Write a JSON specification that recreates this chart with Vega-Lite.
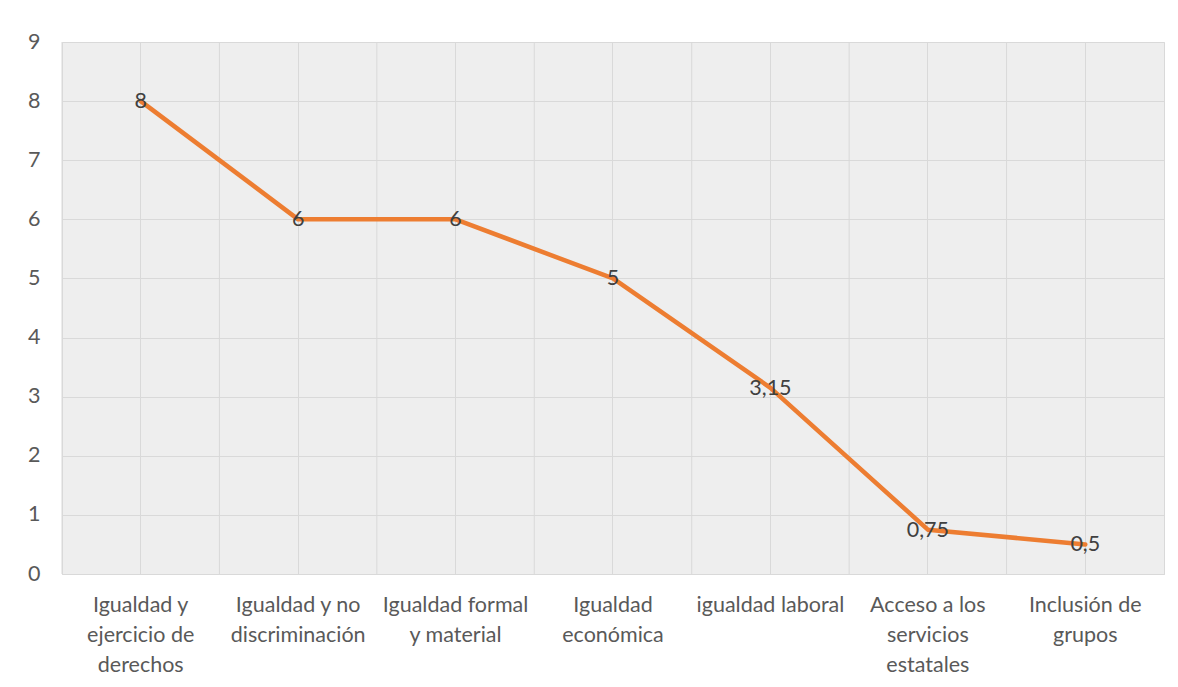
{
  "$schema": "https://vega.github.io/schema/vega-lite/v6.json",
  "width": 1102,
  "height": 532,
  "autosize": {"type": "none"},
  "padding": {"left": 62, "top": 42, "right": 14, "bottom": 113},
  "background": "white",
  "config": {
    "view": {"stroke": "#d9d9d9", "strokeWidth": 1, "fill": "#eeeeee"},
    "font": "Lato"
  },
  "data": {
    "values": [
      {"categoria": "Igualdad y ejercicio de derechos", "valor": 8, "etiqueta": "8"},
      {"categoria": "Igualdad y no discriminación", "valor": 6, "etiqueta": "6"},
      {"categoria": "Igualdad formal y material", "valor": 6, "etiqueta": "6"},
      {"categoria": "Igualdad económica", "valor": 5, "etiqueta": "5"},
      {"categoria": "igualdad laboral", "valor": 3.15, "etiqueta": "3,15"},
      {"categoria": "Acceso a los servicios estatales", "valor": 0.75, "etiqueta": "0,75"},
      {"categoria": "Inclusión de grupos", "valor": 0.5, "etiqueta": "0,5"}
    ]
  },
  "encoding": {
    "x": {
      "field": "categoria",
      "type": "nominal",
      "sort": null,
      "bandPosition": 0.5,
      "scale": {"type": "band", "paddingInner": 0, "paddingOuter": 0},
      "axis": {
        "title": null,
        "labelAngle": 0,
        "labelFontSize": 21.5,
        "labelColor": "#595959",
        "labelPadding": 20,
        "labelLineHeight": 30,
        "labelBaseline": "top",
        "ticks": false,
        "domain": true,
        "domainColor": "#d9d9d9",
        "grid": true,
        "gridColor": "#d9d9d9",
        "bandPosition": 0.5,
        "labelExpr": "datum.label == 'Igualdad y ejercicio de derechos' ? ['Igualdad y', 'ejercicio de', 'derechos'] : datum.label == 'Igualdad y no discriminación' ? ['Igualdad y no', 'discriminación'] : datum.label == 'Igualdad formal y material' ? ['Igualdad formal', 'y material'] : datum.label == 'Igualdad económica' ? ['Igualdad', 'económica'] : datum.label == 'Acceso a los servicios estatales' ? ['Acceso a los', 'servicios', 'estatales'] : datum.label == 'Inclusión de grupos' ? ['Inclusión de', 'grupos'] : datum.label"
      }
    },
    "y": {
      "field": "valor",
      "type": "quantitative",
      "scale": {"domain": [0, 9], "nice": false},
      "axis": {
        "title": null,
        "values": [0, 1, 2, 3, 4, 5, 6, 7, 8, 9],
        "labelFontSize": 21.5,
        "labelColor": "#595959",
        "labelPadding": 22,
        "ticks": false,
        "domain": false,
        "grid": true,
        "gridColor": "#d9d9d9"
      }
    }
  },
  "layer": [
    {
      "mark": {"type": "rule", "color": "#d9d9d9", "strokeWidth": 1},
      "encoding": {
        "x": {"field": "categoria", "type": "nominal", "sort": null, "bandPosition": 0},
        "y": {"value": 0},
        "y2": {"value": 532}
      }
    },
    {
      "mark": {"type": "line", "color": "#ED7D31", "strokeWidth": 4.5, "strokeCap": "round", "strokeJoin": "round"}
    },
    {
      "mark": {"type": "text", "fontSize": 21.5, "color": "#404040", "align": "center", "baseline": "middle", "dy": 1},
      "encoding": {"text": {"field": "etiqueta"}}
    }
  ]
}
